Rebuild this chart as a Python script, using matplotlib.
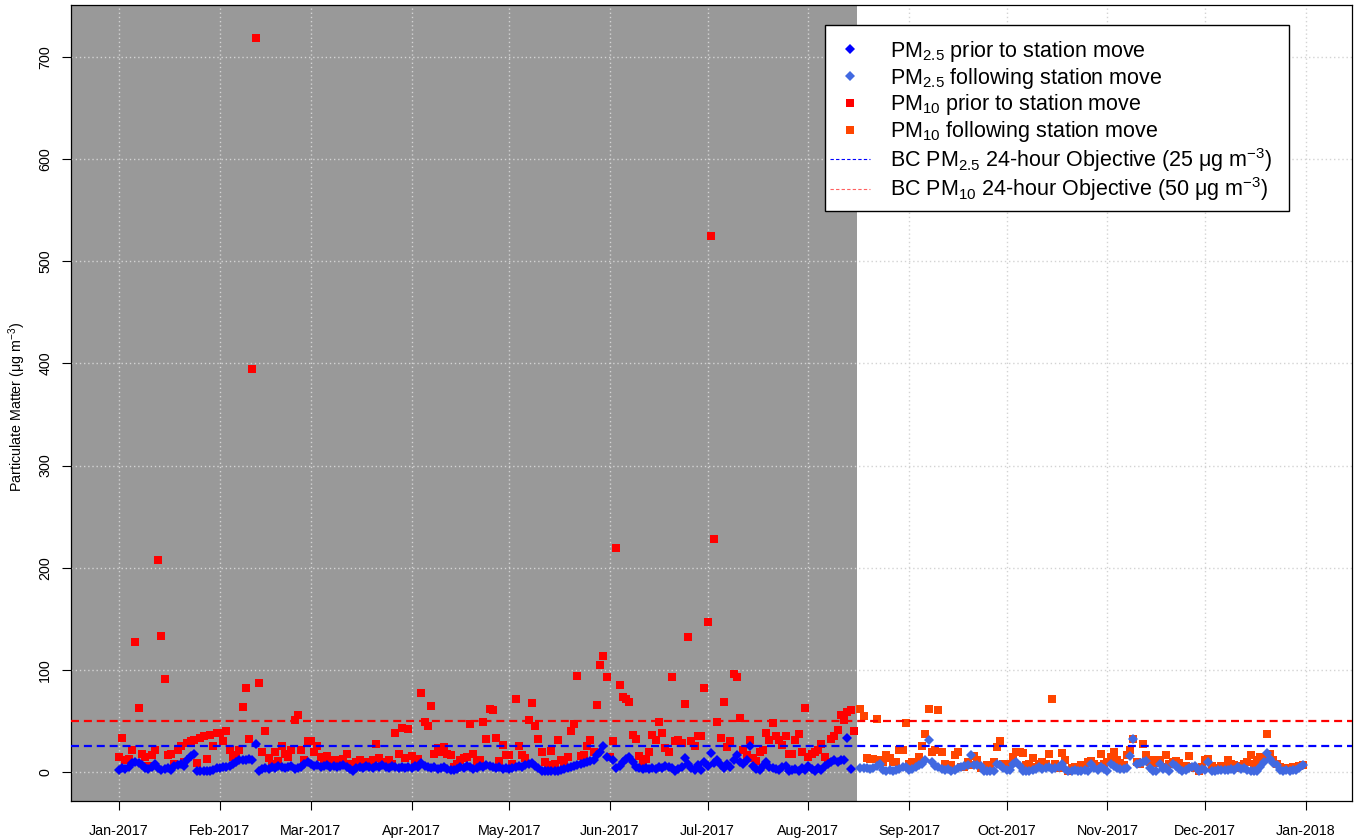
import numpy as np
import pandas as pd
import matplotlib
matplotlib.use("Agg")
import matplotlib.pyplot as plt
import matplotlib.dates as mdates
from matplotlib.lines import Line2D
from matplotlib.patches import Rectangle

plt.rcParams['font.family'] = ['Liberation Sans', 'DejaVu Sans']
plt.rcParams['mathtext.fontset'] = 'custom'
plt.rcParams['mathtext.rm'] = 'Liberation Sans'
plt.rcParams['mathtext.it'] = 'Liberation Sans:italic'
plt.rcParams['mathtext.bf'] = 'Liberation Sans:bold'

nan = np.nan

# ---- daily PM10 (ug/m3), by month ----
pm10_jan = [15, 33, 12, 13, 22, 127, 63, 18, 15, 6, 17, 22, 208, 133, 91, 17, 18, 8, 22, 25,
            10, 28, 30, 31, 9, 33, 35, 13, 36, 25, 38]
pm10_feb = [38, 30, 40, 22, 15, 17, 22, 64, 82, 32, 395, 719, 87, 20, 40, 14, 8, 20, 11, 25,
            18, 15, 22, 51, 56, 22, 12, 30]
pm10_mar = [30, 20, 25, 15, 8, 16, 12, 8, 12, 10, 13, 18, 8, 5, 10, 12, 7, 10, 8, 12,
            27, 14, 10, 8, 12, 8, 38, 18, 43, 14, 42]
pm10_apr = [16, 12, 13, 77, 49, 45, 65, 18, 23, 20, 24, 18, 17, 5, 8, 12, 14, 15, 47, 18,
            10, 12, 49, 32, 62, 61, 33, 11, 26, 17]
pm10_may = [17, 8, 71, 25, 17, 14, 51, 68, 45, 32, 20, 10, 7, 21, 8, 31, 12, 8, 15, 40,
            47, 94, 16, 17, 25, 31, 20, 66, 105, 114, 93]
pm10_jun = [15, 30, 219, 85, 73, 71, 69, 36, 32, 16, 8, 13, 20, 36, 31, 49, 38, 23, 20, 93,
            30, 31, 28, 67, 132, 30, 25, 35, 35, 82]
pm10_jul = [147, 525, 228, 49, 33, 69, 24, 30, 96, 93, 53, 22, 17, 31, 14, 11, 20, 22, 38, 31,
            48, 35, 31, 26, 35, 18, 18, 31, 37, 20, 63]
pm10_aug = [15, 18, 20, 22, 27, 15, 10, 32, 35, 41, 56, 51, 59, 61, 40, nan,
            62, 55, 14, 13, 13, 52, 12, 10, 17, 14, 10, 10, 22, 22, 48]
pm10_sep = [8, 10, 10, 15, 25, 37, 62, 20, 22, 61, 20, 8, 7, 7, 17, 20, 5, 5, 10, 7,
            16, 12, 4, 5, 7, 7, 10, 24, 30, 8]
pm10_oct = [4, 8, 15, 20, 20, 19, 7, 8, 14, 5, 8, 10, 8, 18, 71, 8, 4, 19, 12, 0.5,
            4, 5, 5, 7, 4, 10, 11, 8, 6, 18, 8]
pm10_nov = [10, 15, 20, 12, 9, 7, 17, 22, 32, 10, 8, 27, 17, 10, 12, 9, 12, 5, 17, 8,
            10, 11, 9, 5, 6, 16, 5, 4, 0.5, 5]
pm10_dec = [12, 13, 6, 4, 4, 6, 5, 12, 8, 7, 4, 6, 8, 10, 17, 8, 12, 15, 15, 37,
            18, 12, 8, 5, 4, 4, 4, 5, 5, 6, 7]

# ---- daily PM2.5 (ug/m3), by month ----
pm25_jan = [2, 4, 3, 5, 9, 10, 9, 7, 4, 3, 5, 8, 4, 2, 3, 4, 2, 6, 7, 8,
            6, 12, 16, 18, 1, 1, 1, 1, 1, 2, 4]
pm25_feb = [4, 5, 5, 6, 8, 10, 12, 12, 12, 13, 12, 27, 1, 3, 4, 3, 5, 4, 6, 5,
            4, 5, 6, 3, 4, 5, 8, 10]
pm25_mar = [8, 6, 7, 5, 6, 7, 5, 6, 5, 6, 7, 5, 3, 1, 4, 5, 4, 6, 5, 4,
            6, 5, 7, 5, 4, 6, 5, 4, 5, 4, 5]
pm25_apr = [4, 6, 5, 9, 6, 5, 4, 5, 3, 4, 5, 3, 2, 2, 3, 5, 4, 6, 5, 3,
            4, 6, 5, 7, 6, 5, 4, 5, 3, 4]
pm25_may = [3, 4, 5, 6, 5, 7, 8, 9, 6, 4, 1, 0.5, 0.5, 1, 1, 1, 2, 3, 4, 5,
            6, 7, 8, 9, 10, 11, 12, 17, 20, 25, 15]
pm25_jun = [nan, 12, 4, 6, 10, 13, 15, 10, 5, 4, 3, 4, 3, 4, 3, 5, 4, 6, 5, 4,
            1, 3, 5, 14, 8, 4, 2, 7, 2, 10]
pm25_jul = [6, 19, 9, 12, 7, 4, 8, 5, 12, 17, 10, 8, 12, 25, 6, 3, 2, 6, 10, 5,
            4, 3, 2, 5, 6, 1, 2, 3, 1, 4, 2]
pm25_aug = [6, 3, 1, 4, 2, 6, 8, 10, 12, 10, 12, 12, 33, 3, nan, nan,
            4, 4, 4, 3, 4, 6, 8, 2, 1, 2, 1, 2, 3, 5, 5]
pm25_sep = [2, 3, 5, 7, 8, 12, 31, 10, 6, 5, 3, 2, 3, 1, 2, 4, 5, 6, 7, 17,
            7, 7, 6, 1, 0.5, 1, 1, 8, 7, 4]
pm25_oct = [2, 2, 8, 10, 6, 1, 0.5, 1, 2, 3, 5, 3, 4, 5, 3, 4, 5, 8, 3, 1,
            1, 2, 1, 1, 2, 1, 8, 4, 2, 5, 3]
pm25_nov = [1, 8, 6, 4, 3, 3, 4, 16, 32, 8, 9, 10, 11, 4, 1, 0.5, 8, 3, 4, 1,
            8, 6, 3, 0.5, 2, 4, 5, 6, 0.5, 3]
pm25_dec = [2, 10, 0.5, 1, 2, 2, 2, 2, 3, 2, 5, 3, 4, 2, 1, 0.5, 1, 5, 10, 19,
            13, 9, 7, 2, 1, 2, 1, 2, 2, 4, 7]

month_ticks = pd.date_range("2017-01-01", "2018-01-01", freq="MS")
move_date = pd.Timestamp("2017-08-16")
pm25_objective = 25
pm10_objective = 50

pm10 = np.array(pm10_jan + pm10_feb + pm10_mar + pm10_apr + pm10_may + pm10_jun +
                pm10_jul + pm10_aug + pm10_sep + pm10_oct + pm10_nov + pm10_dec, float)
pm25 = np.array(pm25_jan + pm25_feb + pm25_mar + pm25_apr + pm25_may + pm25_jun +
                pm25_jul + pm25_aug + pm25_sep + pm25_oct + pm25_nov + pm25_dec, float)
dates = pd.date_range("2017-01-01", "2017-12-31", freq="D")
pre = dates < move_date
post = ~pre

fig = plt.figure(figsize=(13.54, 8.39), dpi=100)
ax = fig.add_axes([71 / 1354, 38 / 839, 1281 / 1354, 796 / 839])

t0 = mdates.date2num(pd.Timestamp("2017-01-01"))
xmin, xmax = t0 - 14.76, t0 + 379.2
ax.set_xlim(xmin, xmax)
ax.set_ylim(-28.4, 750.9)

ax.axvspan(xmin, mdates.date2num(move_date), color='#999999', zorder=0, lw=0)

grid_kw = dict(color='#D3D3D3', lw=1, ls=(0, (1, 2)), zorder=1)
for yv in range(0, 800, 100):
    ax.axhline(yv, **grid_kw)
for m in month_ticks:
    ax.axvline(mdates.date2num(m), **grid_kw)

ax.plot(dates[pre], pm10[pre], ls='none', marker='s', ms=6.3, mew=0, color='#FF0000', zorder=3)
ax.plot(dates[post], pm10[post], ls='none', marker='s', ms=6.3, mew=0, color='#FF4500', zorder=3)
ax.plot(dates[pre], pm25[pre], ls='none', marker='D', ms=4.8, mew=0, color='#0000FF', zorder=4)
ax.plot(dates[post], pm25[post], ls='none', marker='D', ms=4.8, mew=0, color='#4169E1', zorder=4)

ax.axhline(pm25_objective, color='#0000FF', lw=1.6, ls=(0, (3.6, 2.2)), zorder=5)
ax.axhline(pm10_objective, color='#FF0000', lw=1.6, ls=(0, (3.6, 2.2)), zorder=5)

ax.set_xticks(mdates.date2num(month_ticks))
ax.set_xticklabels([m.strftime("%b-%Y") for m in month_ticks])
ax.set_yticks(range(0, 800, 100))
ax.tick_params(axis='both', direction='out', length=6.5, width=0.8, labelsize=10.3, colors='black')
ax.tick_params(axis='x', pad=10)
ax.tick_params(axis='y', pad=7)
for lab in ax.get_yticklabels():
    lab.set_rotation(90)
    lab.set_va('center')
for s in ax.spines.values():
    s.set_linewidth(0.9)
    s.set_color('black')

ax.set_ylabel("Particulate Matter (μg m$^{-3}$)", fontsize=10.3, va='center')
ax.yaxis.set_label_coords(-(71 - 17) / 1281, 0.495)

# legend frame (pixel box 825..1289 x 25..211)
W, H = 1281, 796
ax.add_patch(Rectangle(((825 - 71) / W, (801 - 211) / H), (1289 - 825) / W, (211 - 25) / H,
                       transform=ax.transAxes, facecolor='white', edgecolor='black',
                       lw=1.0, zorder=9, clip_on=False))

handles = [
    Line2D([], [], ls='none', marker='D', ms=5, mew=0, color='#0000FF'),
    Line2D([], [], ls='none', marker='D', ms=5, mew=0, color='#4169E1'),
    Line2D([], [], ls='none', marker='s', ms=6, mew=0, color='#FF0000'),
    Line2D([], [], ls='none', marker='s', ms=6, mew=0, color='#FF4500'),
    Line2D([], [], color='#0000FF', lw=0.8, ls=(0, (3, 2))),
    Line2D([], [], color='#FF6060', lw=0.8, ls=(0, (3, 2))),
]
labels = [
    r"PM$_{2.5}$ prior to station move",
    r"PM$_{2.5}$ following station move",
    r"PM$_{10}$ prior to station move",
    r"PM$_{10}$ following station move",
    r"BC PM$_{2.5}$ 24-hour Objective (25 μg m$^{-3}$)",
    r"BC PM$_{10}$ 24-hour Objective (50 μg m$^{-3}$)",
]
leg = ax.legend(handles, labels, loc='upper left',
                bbox_to_anchor=((830 - 71) / W, (801 - 39) / H),
                fontsize=15.5, frameon=False, borderpad=0, labelspacing=0.08,
                handlelength=1.86, handletextpad=0.93, borderaxespad=0)
leg.set_zorder(10)

fig.savefig("out.png", dpi=100)
